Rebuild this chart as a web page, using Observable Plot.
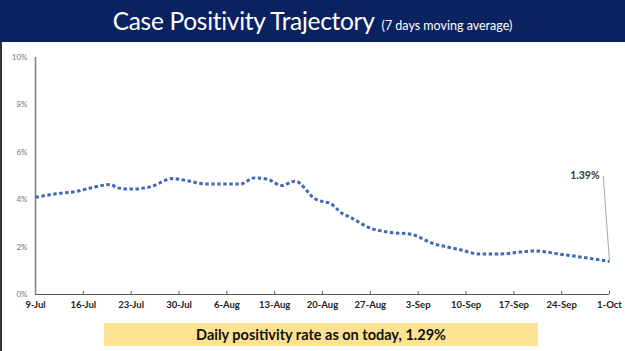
<!DOCTYPE html>
<html>
<head>
<meta charset="utf-8">
<script src="https://cdn.jsdelivr.net/npm/d3@7"></script>
<script src="https://cdn.jsdelivr.net/npm/@observablehq/plot@0.6"></script>
<style>
  html, body { margin: 0; padding: 0; background: #fff; }
  #wrap { position: relative; width: 625px; height: 351px; overflow: hidden; font-family: Lato, "Open Sans", sans-serif; }
  #header { position: absolute; left: 0; top: 0; width: 625px; height: 42px; background: #0b2260; color: #fff; text-align: center; white-space: nowrap; }
  #header .t { position: absolute; left: 0; right: 0; top: 6px; text-align: center; }
  #header .main { font-size: 24.5px; letter-spacing: -0.3px; }
  #header .sub { font-size: 12.5px; margin-left: 7px; }
  #chart { position: absolute; left: 0; top: 42px; border-left: 2px solid #333; }
  #chart svg { display: block; }
  #note { position: absolute; left: 104px; top: 323px; width: 434px; height: 23px; background: #fde293; color: #111; font-weight: bold; font-size: 14.5px; text-align: center; line-height: 23px; }
</style>
</head>
<body>
<div id="wrap">
  <div id="header"><div class="t"><span class="main">Case Positivity Trajectory</span><span class="sub">(7 days moving average)</span></div></div>
  <div id="chart"></div>
  <div id="note">Daily positivity rate as on today, 1.29%</div>
</div>
<script>
// Data (7-day moving average positivity, %)
const dates = [
  "2020-07-09","2020-07-12","2020-07-15","2020-07-17","2020-07-20","2020-07-21",
  "2020-07-23","2020-07-26","2020-07-29","2020-07-31","2020-08-03","2020-08-08",
  "2020-08-10","2020-08-12","2020-08-14","2020-08-16","2020-08-19","2020-08-20",
  "2020-08-21","2020-08-23","2020-08-24","2020-08-27","2020-08-30","2020-09-02",
  "2020-09-05","2020-09-09","2020-09-12","2020-09-15","2020-09-20","2020-09-24",
  "2020-09-28","2020-10-01"
];
const positivity = [
  4.10, 4.25, 4.35, 4.49, 4.64, 4.50,
  4.45, 4.56, 4.89, 4.81, 4.66, 4.66,
  4.92, 4.86, 4.60, 4.78, 4.02, 3.92,
  3.86, 3.40, 3.27, 2.80, 2.62, 2.54,
  2.17, 1.90, 1.71, 1.71, 1.84, 1.69,
  1.53, 1.39
];
const xTickLabels = ["9-Jul","16-Jul","23-Jul","30-Jul","6-Aug","13-Aug","20-Aug","27-Aug","3-Sep","10-Sep","17-Sep","24-Sep","1-Oct"];
const yTicks = [0, 2, 4, 6, 8, 10];
const lastLabel = "1.39%";

const data = dates.map((d, i) => ({date: new Date(d), value: positivity[i]}));
const start = new Date("2020-07-09");
const end = new Date("2020-10-01");
const xTicks = xTickLabels.map((_, i) => d3.utcDay.offset(start, 7 * i));
const last = data[data.length - 1];
const labelLevel = 5.0;

const chart = Plot.plot({
  width: 623,
  height: 309,
  marginTop: 15,
  marginBottom: 57,
  marginLeft: 33,
  marginRight: 16,
  style: {fontFamily: "Lato, 'Open Sans', sans-serif", background: "transparent"},
  x: {type: "utc", domain: [start, end]},
  y: {domain: [0, 10]},
  marks: [
    Plot.axisY(yTicks, {tickSize: 0, tickPadding: 8, tickFormat: d => d + "%", fontSize: 8, fill: "#777", label: null}),
    Plot.axisX(xTicks, {text: null, tickSize: 3, dy: -3, stroke: "#595959", label: null}),
    Plot.axisX(xTicks, {tickSize: 0, tickPadding: 7, tickFormat: (d, i) => xTickLabels[i], fontSize: 9.5, fontWeight: "bold", fill: "#222", label: null}),
    Plot.ruleX([start], {y1: 0, y2: 10, stroke: "#7f7f7f", strokeWidth: 1.5}),
    Plot.ruleY([0], {stroke: "#595959", strokeWidth: 1.2}),
    Plot.line(data, {x: "date", y: "value", stroke: "#4169b8", strokeWidth: 3, strokeDasharray: "3.5,2.5", strokeLinecap: "butt", curve: "monotone-x"}),
    Plot.link([last], {x1: "date", y1: "value", x2: d => d3.utcHour.offset(d.date, -22), y2: () => labelLevel, stroke: "#a6a6a6", strokeWidth: 1}),
    Plot.text([last], {x: "date", y: () => labelLevel, text: () => lastLabel, textAnchor: "end", dx: -10, fontSize: 10.5, fontWeight: "bold", fill: "#333"})
  ]
});
document.getElementById("chart").appendChild(chart);
</script>
</body>
</html>
